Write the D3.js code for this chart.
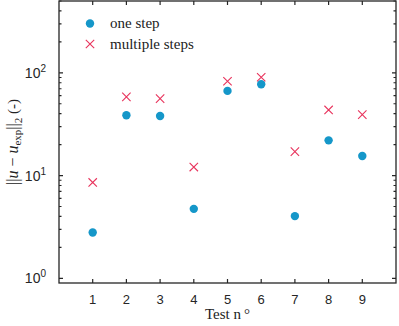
<!DOCTYPE html>
<html>
<head>
<meta charset="utf-8">
<script src="https://cdn.jsdelivr.net/npm/d3@7"></script>
<style>
  body { margin: 0; background: #fff; }
  svg { display: block; }
</style>
</head>
<body>
<div id="chart"></div>
<script>
// data
const tests = [1, 2, 3, 4, 5, 6, 7, 8, 9];
const oneStep = [2.79, 38.6, 38.0, 4.74, 66.7, 77.4, 4.03, 22.0, 15.5];
const multiSteps = [8.57, 58.3, 56.1, 12.1, 82.8, 90.6, 17.1, 43.5, 39.2];
const yMajor = [1, 10, 100];

const width = 399, height = 326;
const margin = { left: 59, right: 3, top: 1, bottom: 43 };
const blue = "#1597c9", red = "#e8335c";

const svg = d3.select("#chart").append("svg")
  .attr("width", width).attr("height", height);

const x = d3.scaleLinear().domain([0, 10]).range([margin.left, width - margin.right]);
const y = d3.scaleLog().domain([0.9, 500]).range([height - margin.bottom, margin.top]);

// minor ticks on the log axis
const minor = [];
for (let d = 1; d <= 100; d *= 10)
  for (let k = 1; k <= 9; k++) {
    const v = d * k;
    if (v >= 0.9 && v <= 500 && !yMajor.includes(v)) minor.push(v);
  }

const axisColor = "#262626";
const g = svg.append("g");

// frame
g.append("rect")
  .attr("x", x(0)).attr("y", y(500))
  .attr("width", x(10) - x(0)).attr("height", y(0.9) - y(500))
  .attr("fill", "none").attr("stroke", axisColor).attr("stroke-width", 1.3);

// x ticks, bottom and top, pointing inward
g.selectAll(".xt").data(tests).enter().append("path")
  .attr("d", d => `M${x(d)},${y(0.9)}v-4M${x(d)},${y(500)}v4`)
  .attr("stroke", axisColor).attr("stroke-width", 1.2);

// y ticks, left and right
g.selectAll(".ymaj").data(yMajor).enter().append("path")
  .attr("d", d => `M${x(0)},${y(d)}h4M${x(10)},${y(d)}h-4`)
  .attr("stroke", axisColor).attr("stroke-width", 1.2);
g.selectAll(".ymin").data(minor).enter().append("path")
  .attr("d", d => `M${x(0)},${y(d)}h2.5M${x(10)},${y(d)}h-2.5`)
  .attr("stroke", axisColor).attr("stroke-width", 1.2);

// x tick labels
g.selectAll(".xl").data(tests).enter().append("text")
  .attr("x", d => x(d)).attr("y", y(0.9) + 21)
  .attr("text-anchor", "middle")
  .attr("font-family", "Liberation Sans, Arial, sans-serif")
  .attr("font-size", 13).attr("fill", axisColor)
  .text(d => d);

// y tick labels 10^n
const yl = g.selectAll(".yl").data(yMajor).enter().append("text")
  .attr("x", x(0) - 13).attr("y", d => y(d) + 5)
  .attr("text-anchor", "end")
  .attr("font-family", "Liberation Sans, Arial, sans-serif")
  .attr("font-size", 14).attr("fill", axisColor);
yl.append("tspan").text("10");
yl.append("tspan").attr("dy", -6).attr("font-size", 10).text(d => Math.round(Math.log10(d)));

// x label
svg.append("text")
  .attr("x", (x(0) + x(10)) / 2).attr("y", 319)
  .attr("text-anchor", "middle")
  .attr("font-family", "Liberation Serif, serif")
  .attr("font-size", 15).attr("fill", "#222")
  .text("Test n\u2009\u00b0");

// y label
const ylab = svg.append("text")
  .attr("transform", `translate(18,${(y(0.9) + y(500)) / 2}) rotate(-90)`)
  .attr("text-anchor", "middle")
  .attr("font-family", "Liberation Serif, serif")
  .attr("font-size", 16).attr("fill", "#222");
ylab.append("tspan").text("||");
ylab.append("tspan").attr("font-style", "italic").text("u");
ylab.append("tspan").text(" \u2212 ");
ylab.append("tspan").attr("font-style", "italic").text("u");
ylab.append("tspan").attr("font-size", 11).attr("dy", 3).text("exp");
ylab.append("tspan").attr("dy", -3).text("||");
ylab.append("tspan").attr("font-size", 11).attr("dy", 4).text("2");
ylab.append("tspan").attr("dy", -4).attr("font-size", 15).text(" (-)");

// markers
g.selectAll(".dot").data(tests).enter().append("circle")
  .attr("cx", d => x(d)).attr("cy", (d, i) => y(oneStep[i]))
  .attr("r", 4.2).attr("fill", blue);

const cross = s => `M${-s},${-s}L${s},${s}M${-s},${s}L${s},${-s}`;
g.selectAll(".cr").data(tests).enter().append("path")
  .attr("transform", (d, i) => `translate(${x(d)},${y(multiSteps[i])})`)
  .attr("d", cross(4.2))
  .attr("stroke", red).attr("stroke-width", 1.1).attr("fill", "none");

// legend
const leg = svg.append("g");
leg.append("circle").attr("cx", 90).attr("cy", 23.5).attr("r", 4.2).attr("fill", blue);
leg.append("path").attr("transform", "translate(90,44)").attr("d", cross(4.2))
  .attr("stroke", red).attr("stroke-width", 1.1);
leg.selectAll("text").data(["one step", "multiple steps"]).enter().append("text")
  .attr("x", 110).attr("y", (d, i) => 28 + i * 20.5)
  .attr("font-family", "Liberation Serif, serif")
  .attr("font-size", 15).attr("fill", "#222")
  .text(d => d);
</script>
</body>
</html>
